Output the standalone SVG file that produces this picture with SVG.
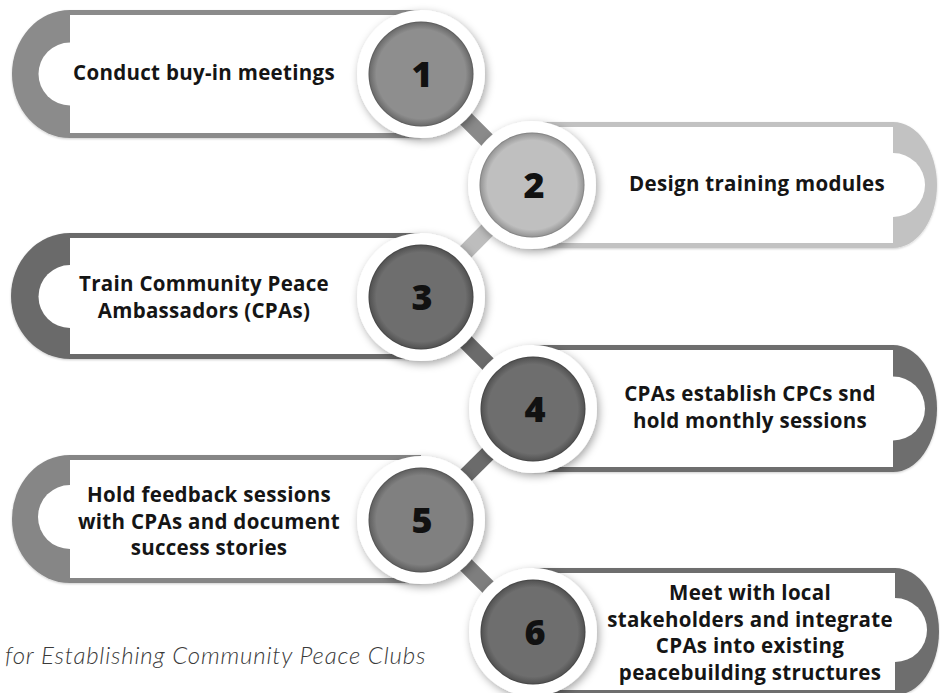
<svg xmlns="http://www.w3.org/2000/svg" width="940" height="693" viewBox="0 0 940 693">
<defs>
<style>
.txt{font-family:"Open Sans","Lato","Liberation Sans",sans-serif;font-weight:700;font-size:20.5px;letter-spacing:0.3px;fill:#151515;text-anchor:middle}
.num{font-family:"Open Sans","Lato","Liberation Sans",sans-serif;font-weight:800;font-size:36px;fill:#111;text-anchor:middle}
.cap{font-family:"Lato","Open Sans","Liberation Sans",sans-serif;font-weight:300;font-style:italic;font-size:24px;letter-spacing:0.8px;fill:#3a3a3a}
.ring{fill:#ffffff;filter:url(#sh)}
.white{fill:#ffffff}
.conn{stroke-width:16;stroke-linecap:butt;fill:none}
</style>
<filter id="sh" x="-30%" y="-30%" width="160%" height="160%">
<feDropShadow dx="2" dy="3" stdDeviation="4" flood-color="#000" flood-opacity="0.35"/>
</filter>
<filter id="csh" x="-10%" y="-30%" width="120%" height="160%">
<feDropShadow dx="0" dy="1" stdDeviation="1.2" flood-color="#000" flood-opacity="0.2"/>
</filter>
<radialGradient id="g1"><stop offset="0.85" stop-color="#8e8e8e"/><stop offset="0.97" stop-color="#6e6e6e"/><stop offset="1" stop-color="#555"/></radialGradient>
<radialGradient id="g2"><stop offset="0.85" stop-color="#bfbfbf"/><stop offset="0.97" stop-color="#9a9a9a"/><stop offset="1" stop-color="#7a7a7a"/></radialGradient>
<radialGradient id="g3"><stop offset="0.85" stop-color="#6e6e6e"/><stop offset="0.97" stop-color="#555"/><stop offset="1" stop-color="#3e3e3e"/></radialGradient>
<radialGradient id="g5"><stop offset="0.85" stop-color="#808080"/><stop offset="0.97" stop-color="#646464"/><stop offset="1" stop-color="#4c4c4c"/></radialGradient>
</defs>
<rect width="940" height="693" fill="#ffffff"/>

<!-- cards -->
<g id="card1" filter="url(#csh)">
<path d="M421,10 H70 A58,64 0 0 0 70,138 H421 Z" fill="#8b8b8b"/>
<rect x="70" y="15" width="351" height="118" class="white"/>
<circle cx="70" cy="74" r="31.5" class="white"/>
</g>
<g id="card2" filter="url(#csh)">
<path d="M532,122 H893 A44,63 0 0 1 893,248 H532 Z" fill="#c2c2c2"/>
<rect x="532" y="127" width="361" height="116" class="white"/>
<circle cx="893" cy="185" r="32" class="white"/>
</g>
<g id="card3" filter="url(#csh)">
<path d="M421,233 H70 A59,63 0 0 0 70,359 H421 Z" fill="#6b6b6b"/>
<rect x="70" y="238" width="351" height="116" class="white"/>
<circle cx="70" cy="296.5" r="31.5" class="white"/>
</g>
<g id="card4" filter="url(#csh)">
<path d="M533,345 H893 A44,63.5 0 0 1 893,472 H533 Z" fill="#6e6e6e"/>
<rect x="533" y="350" width="360" height="117" class="white"/>
<circle cx="893" cy="408.5" r="32" class="white"/>
</g>
<g id="card5" filter="url(#csh)">
<path d="M421,455 H70 A58,64 0 0 0 70,583 H421 Z" fill="#868686"/>
<rect x="70" y="460" width="351" height="118" class="white"/>
<circle cx="70" cy="517" r="32" class="white"/>
</g>
<g id="card6" filter="url(#csh)">
<path d="M533,568 H895 A44,63.5 0 0 1 895,695 H533 Z" fill="#6e6e6e"/>
<rect x="533" y="573" width="362" height="117" class="white"/>
<circle cx="895" cy="630" r="32" class="white"/>
</g>

<!-- connectors -->
<g id="connectors">
<line x1="421" y1="74" x2="532" y2="185" class="conn" stroke="#8a8a8a"/>
<line x1="532" y1="185" x2="421" y2="297" class="conn" stroke="#bdbdbd"/>
<line x1="421" y1="297" x2="533" y2="409" class="conn" stroke="#6b6b6b"/>
<line x1="533" y1="409" x2="421" y2="520" class="conn" stroke="#6b6b6b"/>
<line x1="421" y1="520" x2="533" y2="632" class="conn" stroke="#7e7e7e"/>
</g>

<!-- circles -->
<g id="node1">
<circle cx="421" cy="74" r="64" class="ring"/>
<circle cx="421" cy="74" r="52.5" fill="url(#g1)"/>
<text x="422" y="87" class="num">1</text>
<text x="204" y="80" class="txt">Conduct buy-in meetings</text>
</g>
<g id="node2">
<circle cx="532" cy="185" r="64" class="ring"/>
<circle cx="532" cy="185" r="52.5" fill="url(#g2)"/>
<text x="534" y="198" class="num">2</text>
<text x="757" y="191" class="txt">Design training modules</text>
</g>
<g id="node3">
<circle cx="421" cy="297" r="64" class="ring"/>
<circle cx="421" cy="297" r="52.5" fill="url(#g3)"/>
<text x="422" y="310" class="num">3</text>
<text x="204" y="291" class="txt">Train Community Peace</text>
<text x="204" y="318" class="txt">Ambassadors (CPAs)</text>
</g>
<g id="node4">
<circle cx="533" cy="409" r="64" class="ring"/>
<circle cx="533" cy="409" r="52.5" fill="url(#g3)"/>
<text x="535" y="422" class="num">4</text>
<text x="750" y="401" class="txt">CPAs establish CPCs snd</text>
<text x="750" y="428" class="txt">hold monthly sessions</text>
</g>
<g id="node5">
<circle cx="421" cy="520" r="64" class="ring"/>
<circle cx="421" cy="520" r="52.5" fill="url(#g5)"/>
<text x="422" y="533" class="num">5</text>
<text x="209" y="502" class="txt">Hold feedback sessions</text>
<text x="209" y="529" class="txt">with CPAs and document</text>
<text x="209" y="555" class="txt">success stories</text>
</g>
<g id="node6">
<circle cx="533" cy="632" r="64" class="ring"/>
<circle cx="533" cy="632" r="52.5" fill="url(#g3)"/>
<text x="535" y="645" class="num">6</text>
<text x="750" y="600" class="txt">Meet with local</text>
<text x="750" y="627" class="txt">stakeholders and integrate</text>
<text x="750" y="653" class="txt">CPAs into existing</text>
<text x="750" y="680" class="txt">peacebuilding structures</text>
</g>

<text x="5" y="664" class="cap">for Establishing Community Peace Clubs</text>
</svg>
